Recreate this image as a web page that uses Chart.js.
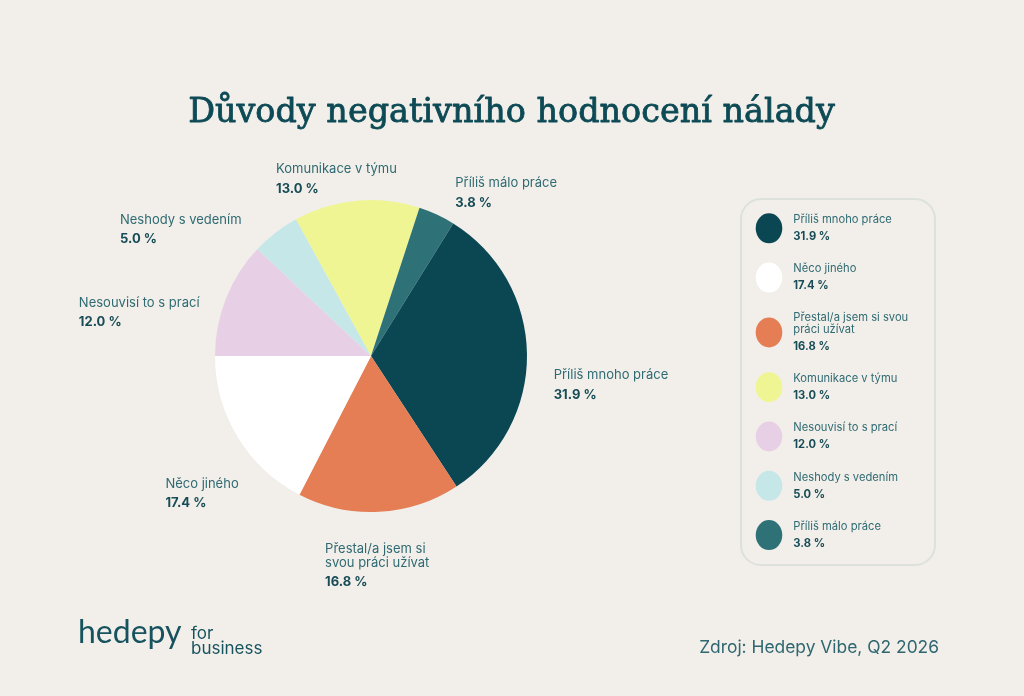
<!DOCTYPE html>
<html>
<head>
<meta charset="utf-8">
<script src="https://cdn.jsdelivr.net/npm/chart.js@4"></script>
<style>
  html, body { margin: 0; padding: 0; background: #f2efea; }
  #wrap { position: relative; width: 1024px; height: 696px; overflow: hidden; background: #f2efea; }
  canvas { position: absolute; left: 0; top: 0; }
</style>
</head>
<body>
<div id="wrap"><canvas id="c" width="1024" height="696"></canvas></div>
<script>
// ---- data ----
const title = "Důvody negativního hodnocení nálady";
const source = "Zdroj: Hedepy Vibe, Q2 2026";
const categories = [
  "Nesouvisí to s prací",
  "Neshody s vedením",
  "Komunikace v týmu",
  "Příliš málo práce",
  "Příliš mnoho práce",
  "Přestal/a jsem si svou práci užívat",
  "Něco jiného"
];
const values = [12.0, 5.0, 13.0, 3.8, 31.9, 16.8, 17.4];
const colors = ["#e7d0e5", "#c5e7e8", "#eef592", "#2e7277", "#0b4753", "#e57d55", "#ffffff"];

// ---- layout (not data) ----
const labelNudge = [[-31, 36], [-58, 44.6], [-14.5, 38], [44, 33], [24, 32], [-5, -6], [15.5, 25]];
const FONT = "Inter, 'Noto Sans', sans-serif";
const NAME_COLOR = "#2f6a72";
const VALUE_COLOR = "#174c56";

function fmt(v) { return v.toFixed(1) + " %"; }

function wrap(ctx, text, maxW) {
  const words = text.split(" ");
  const lines = [];
  let cur = "";
  for (const w of words) {
    const t = cur ? cur + " " + w : w;
    if (cur && ctx.measureText(t).width > maxW) { lines.push(cur); cur = w; }
    else cur = t;
  }
  if (cur) lines.push(cur);
  return lines;
}

const decorPlugin = {
  id: "decor",
  afterDatasetsDraw(chart) {
    const ctx = chart.ctx;
    const meta = chart.getDatasetMeta(0);
    ctx.save();
    // slice labels
    meta.data.forEach((arc, i) => {
      const p = arc.getProps(["x", "y", "startAngle", "endAngle", "outerRadius"], true);
      const mid = (p.startAngle + p.endAngle) / 2;
      const d = p.outerRadius + 60;
      const cx = p.x + d * Math.cos(mid) + labelNudge[i][0];
      const cy = p.y + d * Math.sin(mid) + labelNudge[i][1];
      ctx.font = "400 13px " + FONT;
      const lines = wrap(ctx, categories[i], 125);
      ctx.font = "700 13px " + FONT;
      let w = ctx.measureText(fmt(values[i])).width;
      ctx.font = "400 13px " + FONT;
      lines.forEach(l => { w = Math.max(w, ctx.measureText(l).width); });
      const H = (lines.length - 1) * 14 + 19.5;
      const left = cx - w / 2;
      let y = cy - H / 2;
      ctx.textAlign = "left";
      ctx.textBaseline = "middle";
      ctx.fillStyle = NAME_COLOR;
      lines.forEach((l, k) => ctx.fillText(l, left, y + k * 14));
      ctx.font = "700 13px " + FONT;
      ctx.fillStyle = VALUE_COLOR;
      ctx.fillText(fmt(values[i]), left, y + (lines.length - 1) * 14 + 19.5);
    });

    // title
    ctx.fillStyle = "#0d4a55";
    ctx.strokeStyle = "#0d4a55";
    ctx.lineWidth = 0.8;
    ctx.lineJoin = "round";
    ctx.textAlign = "center";
    ctx.textBaseline = "alphabetic";
    let ts = 34;
    ctx.font = "400 " + ts + "px 'DejaVu Serif', serif";
    ts = ts * 647 / ctx.measureText(title).width;
    ctx.font = "400 " + ts.toFixed(2) + "px 'DejaVu Serif', serif";
    ctx.fillText(title, 511.5, 122.3);
    ctx.strokeText(title, 511.5, 122.3);

    // legend box
    const bx = 741, by = 199, bw = 194, bh = 366, r = 20;
    ctx.beginPath();
    ctx.moveTo(bx + r, by);
    ctx.arcTo(bx + bw, by, bx + bw, by + bh, r);
    ctx.arcTo(bx + bw, by + bh, bx, by + bh, r);
    ctx.arcTo(bx, by + bh, bx, by, r);
    ctx.arcTo(bx, by, bx + bw, by, r);
    ctx.closePath();
    ctx.lineWidth = 2;
    ctx.strokeStyle = "#dde1db";
    ctx.stroke();

    // legend items sorted by value
    const order = values.map((v, i) => i).sort((a, b) => values[b] - values[a]);
    let top = 213.3;
    order.forEach(i => {
      ctx.font = "400 11.2px " + FONT;
      const lines = wrap(ctx, categories[i], 125);
      const th = lines.length * 12 + 5 + 12;
      const h = Math.max(30, th);
      const cyI = top + h / 2;
      ctx.beginPath();
      ctx.ellipse(769, cyI, 13.3, 15, 0, 0, Math.PI * 2);
      ctx.fillStyle = colors[i];
      ctx.fill();
      const ty = cyI - th / 2;
      ctx.textAlign = "left";
      ctx.textBaseline = "middle";
      ctx.fillStyle = NAME_COLOR;
      lines.forEach((l, k) => ctx.fillText(l, 793.3, ty + 6 + k * 11.5));
      ctx.font = "700 11.2px " + FONT;
      ctx.fillStyle = VALUE_COLOR;
      ctx.fillText(fmt(values[i]), 793.3, ty + 6 + (lines.length - 1) * 11.5 + 17);
      top += h + 19.3;
    });

    // logo
    ctx.textAlign = "left";
    ctx.textBaseline = "alphabetic";
    ctx.fillStyle = "#17535e";
    ctx.font = "400 32px Lato, 'Open Sans', sans-serif";
    ctx.fillText("hedepy", 78, 643);
    ctx.font = "400 17px " + FONT;
    ctx.fillText("for", 191, 639);
    ctx.fillText("business", 191, 654);

    // source
    ctx.fillStyle = "#2f6670";
    ctx.font = "400 17.4px " + FONT;
    ctx.textAlign = "right";
    ctx.textBaseline = "middle";
    ctx.fillText(source, 939, 648);
    ctx.restore();
  }
};

new Chart(document.getElementById("c"), {
  type: "pie",
  data: {
    labels: categories,
    datasets: [{ data: values, backgroundColor: colors, borderWidth: 0, hoverOffset: 0 }]
  },
  options: {
    responsive: false,
    animation: false,
    rotation: -90,
    layout: { padding: { left: 215, right: 497, top: 200, bottom: 184 } },
    plugins: { legend: { display: false }, tooltip: { enabled: false } },
    events: []
  },
  plugins: [decorPlugin]
});
</script>
</body>
</html>
